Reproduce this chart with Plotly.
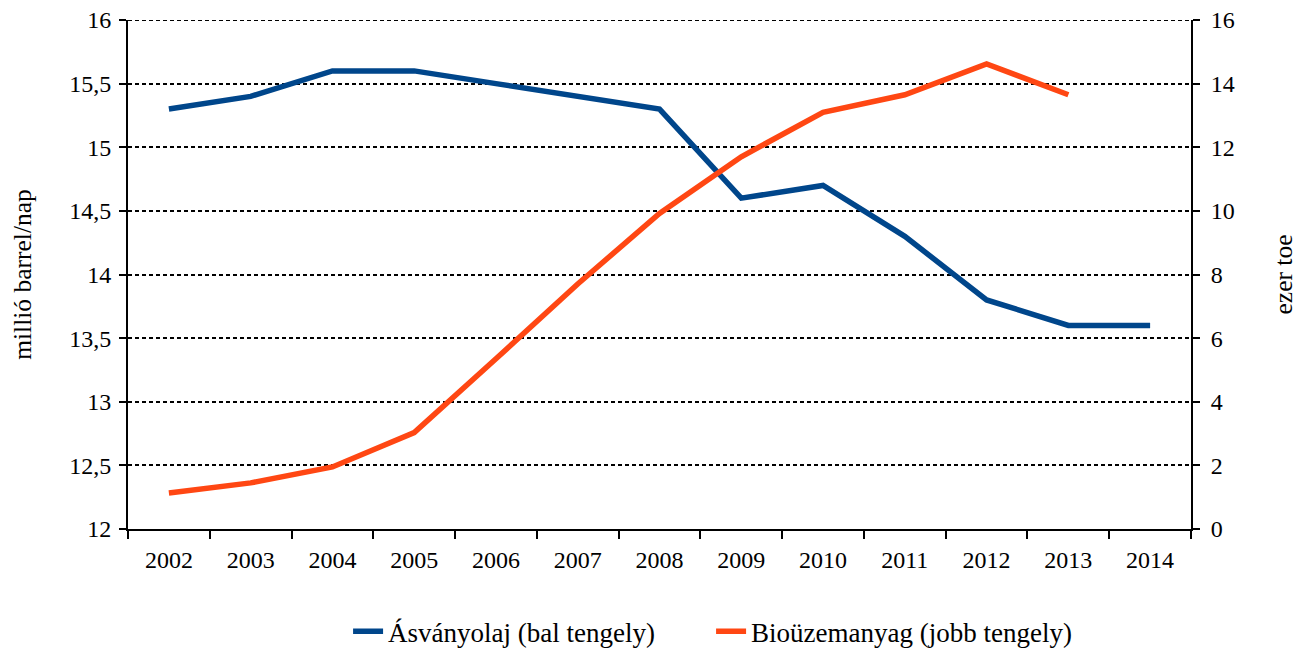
import plotly.graph_objects as go

years = [str(y) for y in range(2002, 2015)]
asvanyolaj = [15.3, 15.4, 15.6, 15.6, 15.5, 15.4, 15.3, 14.6, 14.7, 14.3, 13.8, 13.6, 13.6]
biouzemanyag = [1.13, 1.45, 1.95, 3.03, 5.35, 7.7, 9.92, 11.7, 13.1, 13.65, 14.62, 13.65, None]

FONT = 'Liberation Serif'


def main():
    fig = go.Figure()

    fig.add_trace(
        go.Scatter(
            x=years,
            y=asvanyolaj,
            mode='lines',
            line=dict(color='#00468B', width=5.5),
            name='Ásványolaj (bal tengely)',
            yaxis='y',
        )
    )
    fig.add_trace(
        go.Scatter(
            x=years,
            y=biouzemanyag,
            mode='lines',
            line=dict(color='#FF4713', width=5.5),
            name='Bioüzemanyag (jobb tengely)',
            yaxis='y2',
        )
    )

    # top gridline (plotly leaves out the one on the plot edge)
    fig.add_hline(y=16, line_color='black', line_width=2, line_dash='4px,3px')

    # the page body keeps an 8px margin, so the figure is 8px smaller
    layout = go.Layout(
        width=1298,
        height=641,
        margin=dict(l=120, r=115, t=12, b=120, autoexpand=False),
        plot_bgcolor='white',
        paper_bgcolor='white',
        separators=', ',
        font=dict(family=FONT, color='black', size=24),
        xaxis=dict(
            type='category',
            range=[-0.5, 12.5],
            tickson='boundaries',
            ticks='outside',
            ticklen=8,
            tickwidth=2,
            tickcolor='black',
            ticklabelstandoff=8,
            showline=True,
            linecolor='black',
            linewidth=2,
            showgrid=False,
            automargin=False,
        ),
        yaxis=dict(
            range=[12, 16],
            dtick=0.5,
            ticks='outside',
            ticklen=7,
            tickwidth=2,
            tickcolor='black',
            ticklabelstandoff=3,
            ticklabeloverflow='allow',
            showline=True,
            linecolor='black',
            linewidth=2,
            showgrid=True,
            gridcolor='black',
            gridwidth=2,
            griddash='4px,3px',
            zeroline=False,
            automargin=False,
            title=dict(text='millió barrel/nap', standoff=39,
                       font=dict(family=FONT, size=25.5, color='black')),
        ),
        yaxis2=dict(
            range=[0, 16],
            dtick=2,
            overlaying='y',
            side='right',
            ticks='outside',
            ticklen=7,
            tickwidth=2,
            tickcolor='black',
            ticklabelstandoff=6,
            ticklabeloverflow='allow',
            showline=True,
            linecolor='black',
            linewidth=2,
            showgrid=False,
            zeroline=False,
            automargin=False,
            title=dict(text='ezer toe', standoff=40,
                       font=dict(family=FONT, size=25.5, color='black')),
        ),
        legend=dict(
            orientation='h',
            xref='container',
            yref='container',
            x=0.262,
            xanchor='left',
            y=0.027,
            yanchor='middle',
            entrywidth=318,
            font=dict(family=FONT, size=27, color='black'),
        ),
    )
    fig.update_layout(layout)
    fig.write_html('out.html')


if __name__ == '__main__':
    main()
